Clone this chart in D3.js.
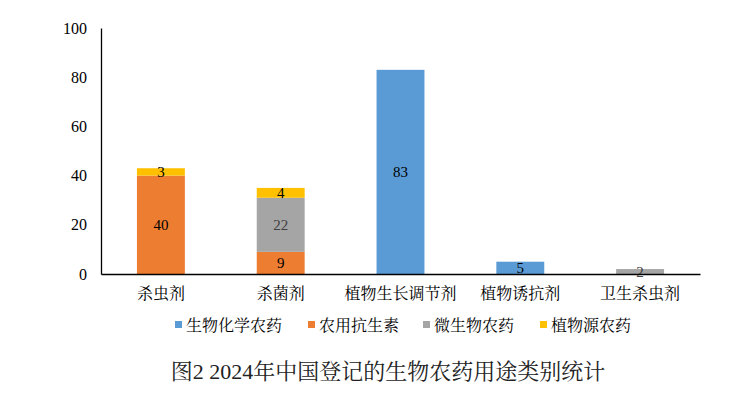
<!DOCTYPE html>
<html><head><meta charset="utf-8">
<script src="https://cdn.jsdelivr.net/npm/d3@7"></script>
<style>body{margin:0;background:#fff}svg{display:block}</style>
</head><body>
<svg id="c" width="754" height="393"></svg>
<script>
const categories = ["杀虫剂","杀菌剂","植物生长调节剂","植物诱抗剂","卫生杀虫剂"];
const seriesNames = ["生物化学农药","农用抗生素","微生物农药","植物源农药"];
const biochemical = [0,0,83,5,0];
const antibiotic = [40,9,0,0,0];
const microbial = [0,22,0,0,2];
const botanical = [3,4,0,0,0];
const colors = ["#5B9BD5","#ED7D31","#A5A5A5","#FFC000"];
const yTicks = [0,20,40,60,80,100];

const rows = categories.map((c,i)=>({cat:c, s0:biochemical[i], s1:antibiotic[i], s2:microbial[i], s3:botanical[i]}));
const stack = d3.stack().keys(["s0","s1","s2","s3"])(rows);

const svg = d3.select("#c");
const serif = "'Liberation Serif','Times New Roman',serif";
const cjk = "'Liberation Serif','Noto Serif CJK SC','Noto Sans CJK SC',serif";
const x = d3.scaleBand().domain(categories).range([101,700]).paddingInner(0.6).paddingOuter(0.3);
const y = d3.scaleLinear().domain([0,100]).range([274,28]);

// y axis
const ya = svg.append("g").attr("transform","translate(101,0)").call(d3.axisLeft(y).tickValues(yTicks).tickSize(0).tickPadding(14));
ya.select(".domain").attr("stroke","#000").attr("stroke-width",1.3);
ya.selectAll("text").attr("font-family",serif).attr("font-size",16).attr("fill","#000");

// bars
stack.forEach((layer,k)=>{
  svg.append("g").selectAll("rect").data(layer.filter(d=>d[1]-d[0]>0)).join("rect")
    .attr("x",d=>x(d.data.cat)).attr("width",x.bandwidth())
    .attr("y",d=>y(d[1])).attr("height",d=>y(d[0])-y(d[1]))
    .attr("fill",colors[k]);
  svg.append("g").selectAll("text").data(layer.filter(d=>d[1]-d[0]>0)).join("text")
    .attr("x",d=>x(d.data.cat)+x.bandwidth()/2)
    .attr("y",d=>(y(d[0])+y(d[1]))/2)
    .attr("dy","0.35em").attr("text-anchor","middle")
    .attr("font-family",serif).attr("font-size",15)
    .attr("fill",k===2?"#404040":"#000")
    .text(d=>d[1]-d[0]);
});

// x axis
const xa = svg.append("g").attr("transform","translate(0,274)").call(d3.axisBottom(x).tickSize(0).tickPadding(14).tickSizeOuter(0));
xa.select(".domain").attr("stroke","#000").attr("stroke-width",1.3);
xa.selectAll("text").attr("font-family",cjk).attr("font-size",16).attr("fill","#000");

// legend
const legX = [175,308,423,540];
const lg = svg.append("g");
seriesNames.forEach((n,i)=>{
  lg.append("rect").attr("x",legX[i]).attr("y",321).attr("width",7).attr("height",7).attr("fill",colors[i]);
  lg.append("text").attr("x",legX[i]+11).attr("y",325).attr("dy","0.35em")
    .attr("font-family",cjk).attr("font-size",16).attr("fill","#000").text(n);
});

// title
svg.append("text").attr("x",388).attr("y",371).attr("dy","0.35em").attr("text-anchor","middle")
  .attr("font-family",cjk).attr("font-size",22).attr("fill","#222")
  .text("图2 2024年中国登记的生物农药用途类别统计");
</script>
</body></html>
